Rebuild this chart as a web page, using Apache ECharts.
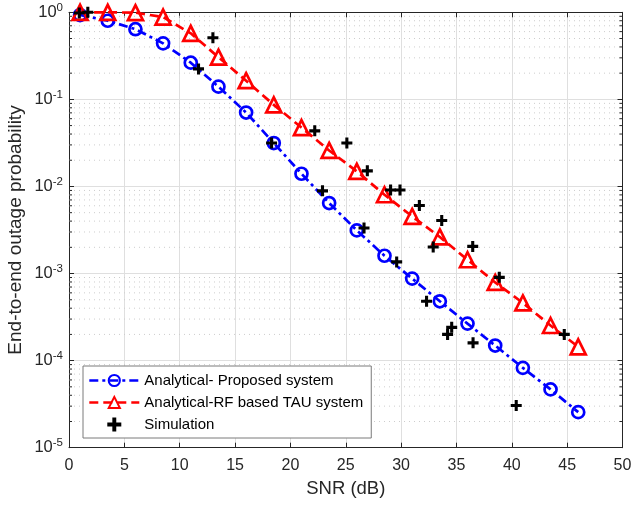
<!DOCTYPE html>
<html>
<head>
<meta charset="utf-8">
<script src="https://cdn.jsdelivr.net/npm/echarts@6/dist/echarts.min.js"></script>
<style>
  html, body { margin: 0; padding: 0; background: #ffffff; }
  #chart { width: 633px; height: 505px; }
</style>
</head>
<body>
<div id="chart"></div>
<script>
// SNR sample points (dB) of the analytical curves
const snr = [1, 3.5, 6, 8.5, 11, 13.5, 16, 18.5, 21, 23.5, 26, 28.5, 31, 33.5, 36, 38.5, 41, 43.5, 46];

// Analytical outage probability, proposed system
const proposed = [0.93, 0.80, 0.64, 0.44, 0.264, 0.140, 0.0706, 0.0315, 0.0140, 0.00645,
  0.00313, 0.00160, 0.000875, 0.00048, 0.000266, 0.000149, 8.26e-5, 4.67e-5, 2.56e-5];

// Analytical outage probability, RF based TAU system
const rfTau = [1.0, 1.0, 0.99, 0.88, 0.574, 0.305, 0.164, 0.0865, 0.0475, 0.0259,
  0.0149, 0.00803, 0.00453, 0.00263, 0.00144, 0.00079, 0.00046, 0.000253, 0.000144];

// Monte-Carlo simulation points
const simSnr = [0.93, 1.7, 11.7, 13.0, 18.3, 22.2, 22.9, 25.1, 26.65, 26.95, 29.05, 29.6,
  29.9, 31.65, 32.3, 32.9, 33.67, 34.2, 34.57, 36.47, 36.5, 38.87, 40.4, 44.74];
const simOutage = [0.98, 1.0, 0.224, 0.51, 0.0315, 0.0435, 0.0089, 0.0315, 0.00333, 0.0151,
  0.0091, 0.00136, 0.0091, 0.00605, 0.00048, 0.00202, 0.00407, 0.0002, 0.000241, 0.00205,
  0.00016, 0.000904, 3.05e-5, 0.0002];

// Axis ranges
const xMin = 0, xMax = 50, xStep = 5;
const yMin = 1e-5, yMax = 1;

// Log minor grid positions: 2..9 within each decade
const minorLevels = [];
for (let e = -5; e < 0; e++) {
  for (let d = 2; d <= 9; d++) minorLevels.push(d * Math.pow(10, e));
}

const FONT = '"Liberation Sans", Arial, Helvetica, sans-serif';
const INK = '#262626';
const GRID = '#dfdfdf';

const plusPath = 'path://M3.6,0H6.4V3.6H10V6.4H6.4V10H3.6V6.4H0V3.6H3.6Z';

const chart = echarts.init(document.getElementById('chart'), null, { renderer: 'canvas' });

const option = {
  animation: false,
  backgroundColor: '#ffffff',
  textStyle: { fontFamily: FONT },
  grid: { left: 69, right: 10.5, top: 12.3, bottom: 57.3, containLabel: false, outerBoundsMode: 'none' },
  xAxis: [
    {
      type: 'value', min: xMin, max: xMax, interval: xStep, position: 'bottom',
      name: 'SNR (dB)', nameLocation: 'middle', nameGap: 32, nameMoveOverlap: false,
      nameTextStyle: { color: INK, fontSize: 18.5, fontFamily: FONT },
      axisLine: { show: true, onZero: false, lineStyle: { color: INK, width: 1 } },
      axisTick: { show: true, inside: true, length: 5, lineStyle: { color: INK } },
      axisLabel: { color: INK, fontSize: 16, margin: 10, fontFamily: FONT },
      splitLine: { show: true, lineStyle: { color: GRID, width: 1 } }
    },
    {
      type: 'value', min: xMin, max: xMax, interval: xStep, position: 'top',
      axisLine: { show: true, onZero: false, lineStyle: { color: INK, width: 1 } },
      axisTick: { show: true, inside: true, length: 5, lineStyle: { color: INK } },
      axisLabel: { show: false },
      splitLine: { show: false }
    }
  ],
  yAxis: [
    {
      type: 'log', logBase: 10, min: yMin, max: yMax, splitNumber: 5, position: 'left',
      name: 'End-to-end outage probability', nameLocation: 'middle', nameGap: 44, nameMoveOverlap: false,
      nameTextStyle: { color: INK, fontSize: 19, fontFamily: FONT },
      axisLine: { show: true, onZero: false, lineStyle: { color: INK, width: 1 } },
      axisTick: { show: true, inside: true, length: 5, lineStyle: { color: INK } },
      axisLabel: {
        color: INK, margin: 6, fontFamily: FONT,
        formatter: function (v) {
          const e = Math.round(Math.log10(v));
          return '{b|10}{s|' + e + '}';
        },
        rich: {
          b: { fontSize: 16.5, color: INK, fontFamily: FONT },
          s: { fontSize: 11.5, color: INK, fontFamily: FONT, padding: [0, 0, 9, 0] }
        }
      },
      splitLine: { show: true, lineStyle: { color: GRID, width: 1 } }
    },
    {
      type: 'log', logBase: 10, min: yMin, max: yMax, splitNumber: 5, position: 'right',
      axisLine: { show: true, onZero: false, lineStyle: { color: INK, width: 1 } },
      axisTick: { show: true, inside: true, length: 5, lineStyle: { color: INK } },
      axisLabel: { show: false },
      splitLine: { show: false }
    }
  ],
  legend: {
    orient: 'vertical',
    left: 83, top: 366,
    padding: [7, 8, 6, 5],
    itemGap: 7,
    itemWidth: 50, itemHeight: 14,
    backgroundColor: '#ffffff',
    borderColor: '#7a7a7a', borderWidth: 1,
    lineStyle: { width: 2.6 },
    textStyle: { color: '#000000', fontSize: 15, fontFamily: FONT, padding: [0, 0, 0, 0] },
    data: ['Analytical- Proposed system', 'Analytical-RF based TAU system', 'Simulation']
  },
  series: [
    {
      // dotted minor grid and minor ticks for the log axis
      type: 'custom', name: 'minor', silent: true, z: 1, clip: false,
      xAxisIndex: 0, yAxisIndex: 0,
      data: minorLevels.map(v => [xMin, v]),
      encode: { x: 0, y: 1 },
      renderItem: function (params, api) {
        const v = api.value(1);
        const l = api.coord([xMin, v]);
        const r = api.coord([xMax, v]);
        return {
          type: 'group',
          children: [
            { type: 'line', shape: { x1: l[0], y1: l[1], x2: r[0], y2: r[1] },
              style: { stroke: '#cdcdcd', lineWidth: 1, lineDash: [1, 4] } },
            { type: 'line', shape: { x1: l[0], y1: l[1], x2: l[0] + 3, y2: l[1] },
              style: { stroke: INK, lineWidth: 1 } },
            { type: 'line', shape: { x1: r[0] - 3, y1: r[1], x2: r[0], y2: r[1] },
              style: { stroke: INK, lineWidth: 1 } }
          ]
        };
      }
    },
    {
      name: 'Analytical- Proposed system', type: 'line', z: 3,
      xAxisIndex: 0, yAxisIndex: 0, clip: false,
      data: snr.map((x, i) => [x, proposed[i]]),
      symbol: 'circle', symbolSize: 12,
      lineStyle: { color: '#0000ff', width: 2.7, type: [9, 4, 3, 4] },
      itemStyle: { color: 'rgba(255,255,255,0)', borderColor: '#0000ff', borderWidth: 2.7, opacity: 1 }
    },
    {
      name: 'Analytical-RF based TAU system', type: 'line', z: 3,
      xAxisIndex: 0, yAxisIndex: 0, clip: false,
      data: snr.map((x, i) => [x, rfTau[i]]),
      symbol: 'triangle', symbolSize: 15,
      lineStyle: { color: '#ff0000', width: 2.7, type: [9, 5] },
      itemStyle: { color: 'rgba(255,255,255,0)', borderColor: '#ff0000', borderWidth: 2.7, opacity: 1 }
    },
    {
      name: 'Simulation', type: 'scatter', z: 4,
      xAxisIndex: 0, yAxisIndex: 0, clip: false,
      data: simSnr.map((x, i) => [x, simOutage[i]]),
      symbol: plusPath, symbolSize: 11,
      itemStyle: { color: '#000000', opacity: 1 }
    }
  ]
};

chart.setOption(option);
</script>
</body>
</html>
